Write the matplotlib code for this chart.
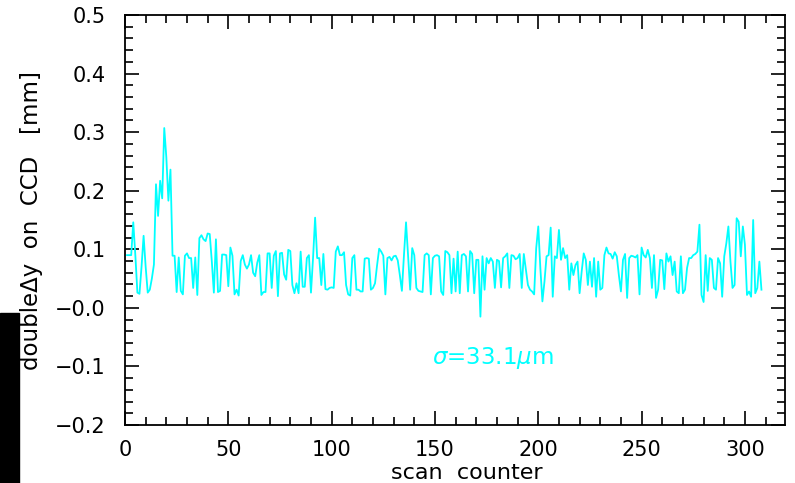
import matplotlib
matplotlib.use("Agg")
import matplotlib.pyplot as plt
import numpy as np
from matplotlib.ticker import MultipleLocator
from matplotlib.patches import Rectangle

# double delta-y on CCD [mm] per scan
dy_part1 = [0.09, 0.09, 0.09, 0.146, 0.09, 0.026, 0.024, 0.07, 0.123, 0.07,
            0.026, 0.031, 0.05, 0.074, 0.211, 0.157, 0.217, 0.187, 0.307, 0.257,
            0.183, 0.236, 0.089, 0.089, 0.027, 0.086, 0.029, 0.023, 0.089, 0.093,
            0.085, 0.085, 0.034, 0.086, 0.022, 0.119, 0.124, 0.117, 0.114, 0.127,
            0.126, 0.08, 0.026, 0.117, 0.027, 0.029, 0.091, 0.091, 0.090, 0.037,
            0.103, 0.089, 0.023, 0.031, 0.021, 0.08, 0.09, 0.074, 0.067, 0.074,
            0.09, 0.06, 0.054, 0.077, 0.09, 0.022, 0.027, 0.027, 0.093, 0.093,
            0.034, 0.089, 0.097, 0.02, 0.093, 0.094, 0.057]
dy_part2 = [0.048, 0.099, 0.097, 0.039, 0.025, 0.042, 0.025, 0.096, 0.036, 0.036,
            0.085, 0.090, 0.026, 0.085, 0.154, 0.085, 0.085, 0.039, 0.092, 0.032,
            0.031, 0.034, 0.035, 0.034, 0.096, 0.105, 0.090, 0.090, 0.095, 0.039,
            0.023, 0.021, 0.085, 0.090, 0.031, 0.031, 0.028, 0.028, 0.084, 0.085,
            0.084, 0.031, 0.034, 0.042, 0.073, 0.101, 0.096, 0.089, 0.023, 0.085,
            0.087, 0.081, 0.088, 0.089, 0.081, 0.056, 0.029, 0.090, 0.146, 0.088,
            0.031, 0.102, 0.090, 0.034, 0.029, 0.028, 0.027, 0.090, 0.093, 0.090,
            0.023, 0.085, 0.089, 0.090, 0.088, 0.028, 0.022]
dy_part3 = [0.097, 0.095, 0.090, 0.025, 0.084, 0.028, 0.096, 0.025, 0.090, 0.092,
            0.088, 0.028, 0.097, 0.092, 0.025, 0.082, 0.082, -0.015, 0.088, 0.031,
            0.085, 0.076, 0.085, 0.079, 0.034, 0.082, 0.080, 0.035, 0.085, 0.088,
            0.093, 0.034, 0.090, 0.089, 0.083, 0.085, 0.092, 0.034, 0.092, 0.065,
            0.039, 0.031, 0.028, 0.023, 0.102, 0.139, 0.068, 0.011, 0.045, 0.088,
            0.090, 0.137, 0.019, 0.088, 0.085, 0.133, 0.082, 0.102, 0.085, 0.090,
            0.031, 0.076, 0.056, 0.073, 0.079, 0.025, 0.062, 0.093, 0.082, 0.039,
            0.079, 0.036, 0.085, 0.019, 0.079, 0.031, 0.034]
dy_part4 = [0.090, 0.103, 0.093, 0.092, 0.084, 0.095, 0.088, 0.056, 0.028, 0.082,
            0.092, 0.017, 0.085, 0.089, 0.088, 0.086, 0.090, 0.023, 0.103, 0.090,
            0.086, 0.099, 0.085, 0.034, 0.090, 0.017, 0.031, 0.082, 0.081, 0.032,
            0.093, 0.079, 0.088, 0.056, 0.079, 0.028, 0.025, 0.088, 0.025, 0.031,
            0.068, 0.085, 0.085, 0.090, 0.092, 0.096, 0.142, 0.022, 0.010, 0.090,
            0.029, 0.085, 0.082, 0.034, 0.031, 0.085, 0.076, 0.019, 0.088, 0.110,
            0.139, 0.079, 0.034, 0.039, 0.153, 0.147, 0.088, 0.139, 0.108, 0.022,
            0.028, 0.019, 0.150, 0.025, 0.034, 0.079, 0.031]

dy = np.array(dy_part1 + dy_part2 + dy_part3 + dy_part4)
scan = np.arange(1, len(dy) + 1)

yticks = [-0.2, -0.1, 0.0, 0.1, 0.2, 0.3, 0.4, 0.5]
ytick_labels = ["\u22120.2", "\u22120.1", "\u22120.0", "0.1", "0.2", "0.3", "0.4", "0.5"]
xticks = [0, 50, 100, 150, 200, 250, 300]

fig = plt.figure(figsize=(7.95, 4.83), dpi=100)
ax = fig.add_axes([125/795, 58/483, 660/795, 410/483])

ax.plot(scan, dy, color="#00ffff", lw=1.3)

ax.set_xlim(0, 319.4)
ax.set_ylim(-0.2, 0.5)
ax.set_xticks(xticks)
ax.set_yticks(yticks)
ax.set_yticklabels(ytick_labels)
ax.xaxis.set_minor_locator(MultipleLocator(10))
ax.yaxis.set_minor_locator(MultipleLocator(0.02))
ax.tick_params(which="both", direction="in", top=True, right=True,
               labeltop=False, labelright=False, width=1.2, color="black")
ax.tick_params(which="major", length=10, labelsize=15)
ax.tick_params(which="minor", length=6)
ax.tick_params(axis="y", which="major", pad=14)
ax.tick_params(axis="x", which="major", pad=11)
for sp in ax.spines.values():
    sp.set_linewidth(1.3)

ax.text(178, -0.085, r"$\sigma$=33.1$\mu$m", color="#00ffff", fontsize=16.5,
        ha="center", va="center")

fig.text(32/795, 1 - 221/483, "double\u0394y  on  CCD   [mm]", rotation=90,
         fontsize=16.5, ha="center", va="center")
fig.text(467/795, 0.0, "scan  counter", fontsize=16, ha="center", va="bottom")

fig.patches.append(Rectangle((0, 0), 19/795, 170/483, transform=fig.transFigure,
                             color="black", zorder=5))

fig.savefig("out.png", dpi=100)
